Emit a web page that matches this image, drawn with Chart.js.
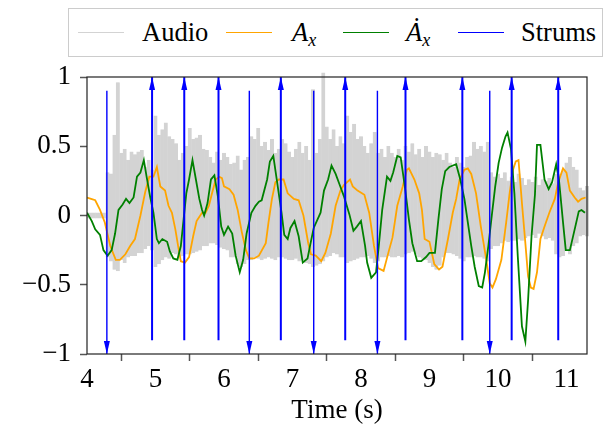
<!DOCTYPE html>
<html>
<head>
<meta charset="utf-8">
<script src="https://cdn.jsdelivr.net/npm/chart.js@4.4.1/dist/chart.umd.min.js"></script>
<style>
  body { margin: 0; background: #fff; }
  #wrap { position: relative; width: 609px; height: 427px; }
  #legend {
    position: absolute; left: 68px; top: 8px; width: 535px; height: 49px;
    border: 1px solid #cccccc; box-sizing: border-box; background: #fff;
    font-family: "Liberation Serif", serif; font-size: 26.5px; color: #000;
  }
  #legend .sw { position: absolute; top: 23px; width: 46px; height: 0; border-top: 1.5px solid; }
  #legend .tx { position: absolute; top: 0; line-height: 47px; white-space: nowrap; }
  #legend i { font-style: italic; }
  #legend sub { font-size: 18px; font-style: italic; vertical-align: -5px; line-height: 0; }
</style>
</head>
<body>
<div id="wrap">
  <canvas id="chart" width="609" height="427"></canvas>
  <div id="legend">
    <span class="sw" style="left:9px;border-color:#d3d3d3"></span><span class="tx" style="left:73px">Audio</span>
    <span class="sw" style="left:157px;border-color:orange"></span><span class="tx" style="left:223px"><i>A</i><sub>x</sub></span>
    <span class="sw" style="left:274px;border-color:green"></span><span class="tx" style="left:337px"><i>Ȧ</i><sub>x</sub></span>
    <span class="sw" style="left:389px;border-color:blue"></span><span class="tx" style="left:452px">Strums</span>
  </div>
</div>
<script>
//================ DATA =================
var xTicks = [4, 5, 6, 7, 8, 9, 10, 11];
var yTicks = [-1, -0.5, 0, 0.5, 1];

// audio envelope, one sample every 0.05 s starting at 4.00 s
var audioStart = 4.0;
var audioStep = 0.05;
var audioHigh = [
  0.02,0.02,0.02,0.02,0.02,0.02,0.31,0.30,0.58,0.96,
  0.45,0.48,0.40,0.46,0.44,0.46,0.47,0.35,0.40,0.33,
  0.72,0.58,0.62,0.67,0.57,0.55,0.52,0.40,0.45,0.50,
  0.63,0.55,0.56,0.58,0.48,0.47,0.42,0.38,0.46,0.40,
  0.45,0.42,0.37,0.38,0.43,0.33,0.40,0.42,0.57,0.55,
  0.63,0.50,0.53,0.47,0.55,0.45,0.48,0.55,0.52,0.46,
  0.42,0.48,0.53,0.45,0.50,0.40,0.91,0.45,0.55,1.03,
  0.64,0.55,0.62,0.50,0.57,0.52,0.72,0.60,0.66,0.55,
  0.57,0.50,0.45,0.52,0.60,0.45,0.48,0.42,0.50,0.45,
  0.42,0.48,0.40,0.50,0.46,0.52,0.44,0.48,0.42,0.50,
  0.46,0.42,0.45,0.44,0.40,0.45,0.38,0.35,0.42,0.38,
  0.35,0.42,0.43,0.53,0.48,0.50,0.46,0.53,0.31,0.28,
  0.30,0.27,0.31,0.25,0.28,0.24,0.30,0.27,0.22,0.26,
  0.24,0.28,0.22,0.26,0.25,0.27,0.23,0.30,0.30,0.32,
  0.38,0.42,0.35,0.33,0.20,0.18,0.21
];
var audioLow = [
  -0.02,-0.02,-0.02,-0.02,-0.02,-0.02,-0.30,-0.33,-0.39,-0.40,
  -0.32,-0.34,-0.30,-0.29,-0.29,-0.27,-0.27,-0.24,-0.22,-0.25,
  -0.37,-0.35,-0.32,-0.30,-0.31,-0.27,-0.28,-0.30,-0.29,-0.28,
  -0.28,-0.27,-0.26,-0.25,-0.22,-0.22,-0.20,-0.20,-0.21,-0.23,
  -0.24,-0.25,-0.30,-0.30,-0.35,-0.37,-0.35,-0.32,-0.32,-0.30,
  -0.31,-0.32,-0.31,-0.30,-0.31,-0.32,-0.30,-0.30,-0.31,-0.32,
  -0.32,-0.31,-0.33,-0.32,-0.34,-0.35,-0.37,-0.36,-0.35,-0.33,
  -0.30,-0.29,-0.27,-0.28,-0.30,-0.30,-0.34,-0.33,-0.32,-0.31,
  -0.30,-0.30,-0.29,-0.31,-0.34,-0.33,-0.30,-0.30,-0.29,-0.30,
  -0.30,-0.29,-0.30,-0.28,-0.27,-0.26,-0.28,-0.30,-0.31,-0.32,
  -0.34,-0.37,-0.39,-0.36,-0.30,-0.27,-0.27,-0.28,-0.29,-0.31,
  -0.33,-0.30,-0.30,-0.29,-0.30,-0.30,-0.31,-0.33,-0.24,-0.22,
  -0.22,-0.20,-0.18,-0.19,-0.18,-0.18,-0.17,-0.18,-0.16,-0.15,
  -0.14,-0.16,-0.13,-0.15,-0.17,-0.16,-0.18,-0.28,-0.30,-0.29,
  -0.24,-0.28,-0.22,-0.20,-0.15,-0.14,-0.15
];

var axTime = [4.00,4.06,4.12,4.19,4.26,4.34,4.42,4.48,4.56,4.63,4.70,4.78,4.85,4.91,4.97,5.02,5.07,5.14,5.19,5.24,
  5.29,5.33,5.37,5.43,5.49,5.55,5.60,5.68,5.73,5.78,5.83,5.88,5.93,5.97,6.00,6.08,6.14,6.20,6.26,6.32,
  6.37,6.44,6.51,6.61,6.65,6.70,6.75,6.80,6.87,6.93,7.02,7.09,7.16,7.23,7.27,7.34,7.42,7.48,7.56,7.63,
  7.70,7.75,7.84,7.88,7.95,8.05,8.12,8.19,8.25,8.33,8.41,8.46,8.53,8.61,8.67,8.70,8.78,8.85,8.89,8.93,
  9.00,9.07,9.14,9.19,9.27,9.34,9.39,9.44,9.51,9.56,9.61,9.68,9.75,9.83,9.88,9.92,9.97,10.05,10.12,10.17,
  10.22,10.26,10.30,10.35,10.40,10.44,10.48,10.52,10.57,10.62,10.68,10.75,10.83,10.88,10.95,11.00,11.05,11.12,11.17,11.22,11.28];
var axVals = [0.13,0.12,0.11,0.04,-0.05,-0.22,-0.32,-0.32,-0.28,-0.22,-0.17,0.00,0.17,0.28,0.28,0.35,0.21,0.18,0.07,0.02,
  -0.10,-0.22,-0.33,-0.34,-0.30,-0.15,-0.04,0.02,0.02,0.07,0.17,0.26,0.28,0.27,0.21,0.19,0.15,0.04,-0.12,-0.25,
  -0.31,-0.31,-0.29,-0.20,-0.05,0.12,0.24,0.26,0.26,0.16,0.12,0.11,0.00,-0.20,-0.28,-0.29,-0.33,-0.27,-0.13,0.07,
  0.18,0.22,0.26,0.21,0.18,0.15,0.02,-0.22,-0.38,-0.40,-0.25,-0.16,0.07,0.21,0.33,0.34,0.26,0.16,0.04,-0.17,
  -0.19,-0.35,-0.39,-0.37,-0.17,0.02,0.12,0.26,0.33,0.34,0.30,0.16,-0.08,-0.32,-0.49,-0.52,-0.46,-0.32,-0.05,0.16,
  0.33,0.39,0.40,0.09,-0.20,-0.44,-0.52,-0.53,-0.41,-0.17,-0.08,0.02,0.12,0.24,0.34,0.31,0.18,0.13,0.10,0.12,0.13];

var adxTime = [4.00,4.07,4.12,4.19,4.24,4.30,4.36,4.41,4.46,4.52,4.57,4.62,4.68,4.73,4.78,4.83,4.87,4.92,4.97,5.02,
  5.05,5.10,5.17,5.21,5.26,5.32,5.37,5.41,5.45,5.49,5.54,5.59,5.64,5.68,5.71,5.76,5.81,5.86,5.91,5.96,
  6.00,6.06,6.12,6.17,6.23,6.28,6.33,6.40,6.46,6.51,6.55,6.63,6.67,6.72,6.77,6.84,6.88,6.93,6.97,7.03,
  7.09,7.15,7.22,7.26,7.31,7.41,7.46,7.52,7.57,7.63,7.69,7.75,7.83,7.89,7.94,8.00,8.06,8.09,8.15,8.22,
  8.26,8.31,8.38,8.43,8.47,8.53,8.58,8.64,8.70,8.75,8.82,8.88,8.95,9.00,9.08,9.13,9.18,9.23,9.29,9.39,
  9.45,9.51,9.56,9.61,9.66,9.72,9.77,9.81,9.86,9.91,9.96,10.01,10.06,10.11,10.14,10.19,10.24,10.29,10.35,10.40,
  10.44,10.49,10.54,10.57,10.62,10.68,10.74,10.79,10.85,10.89,10.95,10.99,11.05,11.12,11.18,11.22,11.27];
var adxVals = [0.02,-0.04,-0.10,-0.14,-0.25,-0.29,-0.25,-0.13,0.04,0.08,0.12,0.09,0.13,0.28,0.31,0.40,0.28,0.14,0.02,-0.17,
  -0.20,-0.17,-0.19,-0.26,-0.31,-0.32,-0.22,-0.03,0.16,0.26,0.40,0.26,0.12,0.04,0.00,0.09,0.26,0.29,0.14,-0.08,
  -0.14,-0.08,-0.13,-0.29,-0.41,-0.32,-0.13,0.02,0.07,0.10,0.11,0.26,0.39,0.43,0.26,0.02,-0.14,-0.17,-0.09,-0.04,
  -0.15,-0.34,-0.31,-0.21,-0.09,0.02,0.18,0.26,0.36,0.30,0.22,0.14,0.01,-0.11,-0.08,-0.04,-0.22,-0.34,-0.45,-0.41,
  -0.22,0.04,0.28,0.25,0.31,0.43,0.42,0.21,-0.03,-0.20,-0.33,-0.33,-0.30,-0.27,-0.27,-0.03,0.19,0.32,0.35,0.37,
  0.26,0.12,-0.05,-0.22,-0.37,-0.51,-0.52,-0.41,-0.22,0.00,0.21,0.38,0.49,0.57,0.60,0.48,0.16,-0.30,-0.80,-0.91,
  -0.61,-0.15,0.15,0.51,0.51,0.26,0.19,0.24,0.37,0.26,-0.05,-0.25,-0.25,-0.10,0.03,0.04,0.02];

var strumTimes = [4.29, 4.95, 5.42, 5.92, 6.37, 6.83, 7.31, 7.77, 8.24, 8.65, 9.48, 9.88, 10.20, 10.88];
var strumDirs = ['down','up','up','up','down','up','down','up','down','up','up','down','up','up'];
var strumTail = 0.9;   // arrows start at +-0.9
var strumHead = 1.0;   // and end on the +-1 frame

//================ BUILD DATASETS =================
var serif = '"Liberation Serif", serif';

var audioData = audioHigh.map(function(h, i) {
  return { x: audioStart + i * audioStep, y: [audioLow[i], h] };
});
var axData = axTime.map(function(t, i) { return { x: t, y: axVals[i] }; });
var adxData = adxTime.map(function(t, i) { return { x: t, y: adxVals[i] }; });

var datasets = [
  {
    type: 'bar', label: 'Audio', data: audioData,
    backgroundColor: '#d3d3d3', borderColor: '#d3d3d3', borderWidth: 0.6, borderSkipped: false,
    barPercentage: 1, categoryPercentage: 1, order: 4,
    clip: { left: 0, top: 5, right: 4, bottom: 0 }
  },
  {
    type: 'line', label: 'Ax', data: axData,
    borderColor: 'orange', borderWidth: 1.8, pointRadius: 0, tension: 0, order: 3
  },
  {
    type: 'line', label: 'dAx', data: adxData,
    borderColor: 'green', borderWidth: 1.8, pointRadius: 0, tension: 0, order: 2
  }
];

strumTimes.forEach(function(t, i) {
  var up = strumDirs[i] === 'up';
  datasets.push({
    type: 'line', label: 'Strums',
    data: up ? [{ x: t, y: -strumTail }, { x: t, y: strumHead }]
             : [{ x: t, y: strumTail }, { x: t, y: -strumHead }],
    borderColor: 'blue', borderWidth: up ? 2 : 1.4,
    pointRadius: 0, order: 1, strumDir: strumDirs[i]
  });
});

// arrow heads on the strums + the box round the plot
var framePlugin = {
  id: 'frame',
  afterDatasetsDraw: function(chart) {
    var ctx = chart.ctx, a = chart.chartArea;
    chart.data.datasets.forEach(function(ds, i) {
      if (!ds.strumDir) return;
      var pt = chart.getDatasetMeta(i).data[1];
      var d = ds.strumDir === 'up' ? 1 : -1;
      ctx.save();
      ctx.fillStyle = 'blue';
      ctx.beginPath();
      ctx.moveTo(pt.x, pt.y);
      ctx.lineTo(pt.x - 3, pt.y + d * 13);
      ctx.lineTo(pt.x + 3, pt.y + d * 13);
      ctx.closePath();
      ctx.fill();
      ctx.restore();
    });
    ctx.save();
    ctx.strokeStyle = '#222';
    ctx.lineWidth = 1.2;
    ctx.strokeRect(a.left, a.top, a.right - a.left, a.bottom - a.top);
    ctx.restore();
  }
};

function fmt(v) { return String(v).replace('-', '\u2212'); }

new Chart(document.getElementById('chart'), {
  type: 'line',
  data: { datasets: datasets },
  plugins: [framePlugin],
  options: {
    responsive: false,
    animation: false,
    events: [],
    layout: { padding: { top: 77, right: 22, bottom: 0, left: 0 } },
    plugins: { legend: { display: false }, tooltip: { enabled: false } },
    scales: {
      x: {
        type: 'linear', min: 4, max: 11.3, offset: false,
        afterBuildTicks: function(s) { s.ticks = xTicks.map(function(v) { return { value: v }; }); },
        afterFit: function(s) { s.height = 73; },
        grid: { drawOnChartArea: false, tickLength: 7, tickWidth: 1.5, tickColor: '#555' },
        border: { display: false },
        ticks: { font: { family: serif, size: 27 }, color: '#000', padding: 3, maxRotation: 0, autoSkip: false, callback: fmt },
        title: { display: true, text: 'Time (s)', font: { family: serif, size: 27 }, color: '#000', padding: { top: 0, bottom: 0 } }
      },
      y: {
        type: 'linear', min: -1, max: 1,
        afterBuildTicks: function(s) { s.ticks = yTicks.map(function(v) { return { value: v }; }); },
        afterFit: function(s) { s.width = 87; },
        grid: { drawOnChartArea: false, tickLength: 7, tickWidth: 1.5, tickColor: '#555' },
        border: { display: false },
        ticks: { font: { family: serif, size: 27 }, color: '#000', padding: 9, autoSkip: false, callback: fmt }
      }
    }
  }
});
</script>
</body>
</html>
